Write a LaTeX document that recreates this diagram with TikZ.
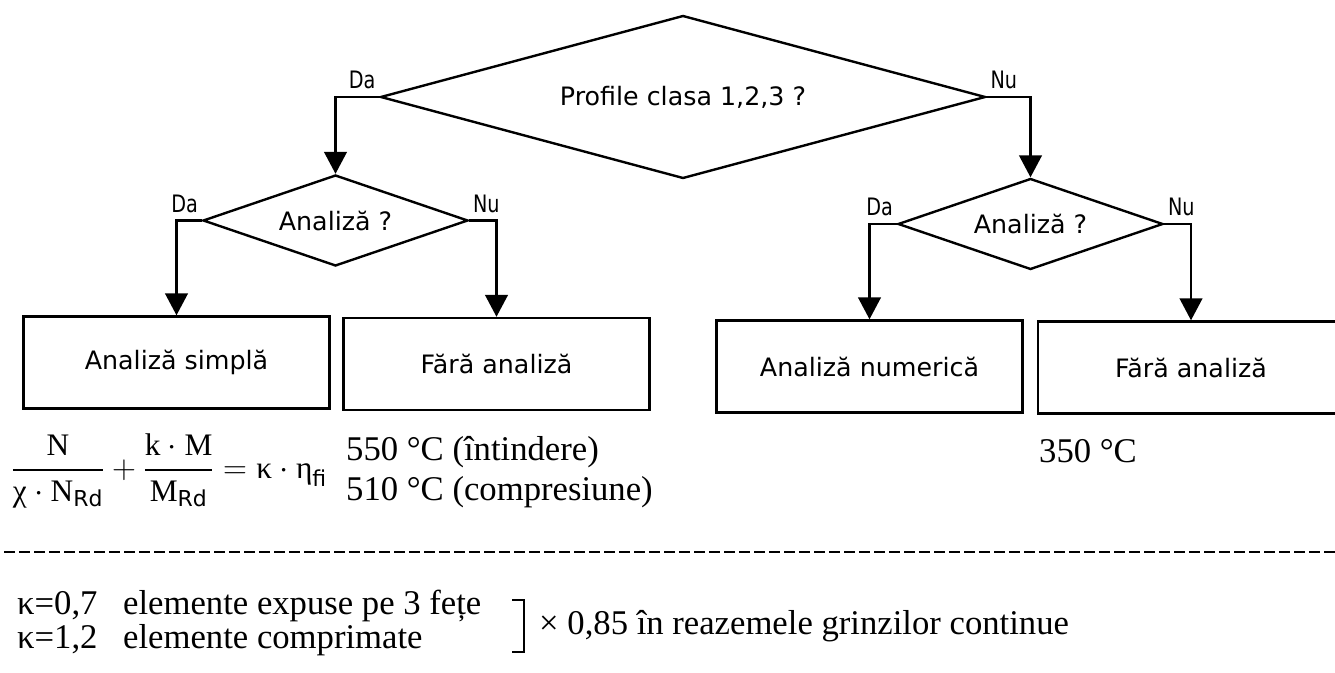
\documentclass[tikz,border=0pt]{standalone}
\usepackage{amsmath}
\usepackage{fontspec}
\setmainfont{Liberation Serif}
\setsansfont{DejaVu Sans}
\newfontfamily\answerfont[FakeStretch=0.8]{DejaVu Sans}
\usetikzlibrary{shapes.geometric,arrows.meta}

\tikzset{every picture/.style={line width=1.8pt}}
\tikzset{
  decision/.style={diamond, draw, inner sep=0pt, font=\sffamily\fontsize{19}{22}\selectfont},
  outcome/.style={rectangle, draw, inner sep=0pt, minimum width=229.5pt, minimum height=69pt, font=\sffamily\fontsize{19}{22}\selectfont},
  answer/.style={inner xsep=2pt, inner ysep=5pt, font=\answerfont\fontsize{18}{20}\selectfont},
  serif/.style={inner sep=0pt, font=\fontsize{26}{30}\selectfont},
  flow/.style={-{Triangle[length=16.5pt,width=17pt]}},
}

\begin{document}
\begin{tikzpicture}[x=0.75pt,y=0.75pt,yscale=-1,xscale=1]
\useasboundingbox (0,0) rectangle (1335,673);

% Decisions
\node[decision, shape aspect=3.7, minimum width=453.75pt, minimum height=122.25pt] (clasa) at (683,97) {Profile clasa 1,2,3 ?};
\node[decision, shape aspect=2.9, minimum width=198.75pt, minimum height=68.25pt] (analizaL) at (335.5,220.5) {Analiză ?};
\node[decision, shape aspect=2.9, minimum width=198.75pt, minimum height=68.25pt] (analizaR) at (1030.5,224) {Analiză ?};

% Outcomes
\node[outcome] (simpla) at (176.5,362.5) {Analiză simplă};
\node[outcome] (faraL) at (496.5,364) {Fără analiză};
\node[outcome] (numerica) at (869.5,366.5) {Analiză numerică};
\node[outcome] (faraR) at (1191,367.5) {Fără analiză};

% Connectors
\draw[flow] (clasa.west) -| (analizaL.north);
\draw[flow] (clasa.east) -| (analizaR.north);
\draw[flow] (analizaL.west) -| (simpla.north);
\draw[flow] (analizaL.east) -| (faraL.north);
\draw[flow] (analizaR.west) -| (numerica.north);
\draw[flow] (analizaR.east) -| (faraR.north);

% Text Node
\node[answer, anchor=south east] (daClasa) at (clasa.west) {Da};
\node[answer, anchor=south west] (nuClasa) at (clasa.east) {Nu};
\node[answer, anchor=south east] (daL) at (analizaL.west) {Da};
\node[answer, anchor=south west] (nuL) at (analizaL.east) {Nu};
\node[answer, anchor=south east] (daR) at (analizaR.west) {Da};
\node[answer, anchor=south west] (nuR) at (analizaR.east) {Nu};

% Text Node
\node[serif, anchor=west, font=\fontsize{23.5}{28}\selectfont] (formula) at (10,471) {$\dfrac{\text{N}}{\text{χ}\cdot\text{N}_{\text{\sffamily Rd}}}+\dfrac{\text{k}\cdot\text{M}}{\text{M}_{\text{\sffamily Rd}}}=\text{κ}\cdot\text{η}_{\text{\sffamily fi}}$};
% Text Node
\node[serif, anchor=base west] (tIntindere) at (345,460) {550 °C (întindere)};
% Text Node
\node[serif, anchor=base west] (tCompresiune) at (345,500) {510 °C (compresiune)};
% Text Node
\node[serif, anchor=base west] (tGeneral) at (1038,462) {350 °C};

%Straight Lines
\draw[line width=1.5pt, dash pattern=on 8.25pt off 3pt] (4,552) -- (1335,552);

% Text Node
\node[serif, anchor=base west] (kExpuse) at (16,614) {κ=0,7};
\node[serif, anchor=base west] (expuse) at (122,614) {elemente expuse pe 3 fețe};
\node[serif, anchor=base west] (kComprimate) at (16,648) {κ=1,2};
\node[serif, anchor=base west] (comprimate) at (122,648) {elemente comprimate};

%Straight Lines
\draw[line width=1.3pt] (512,600) -- (524,600) -- (524,652) -- (512,652);
% Text Node
\node[serif, anchor=base west] (reazeme) at (538,634) {× 0,85 în reazemele grinzilor continue};
\end{tikzpicture}
\end{document}
